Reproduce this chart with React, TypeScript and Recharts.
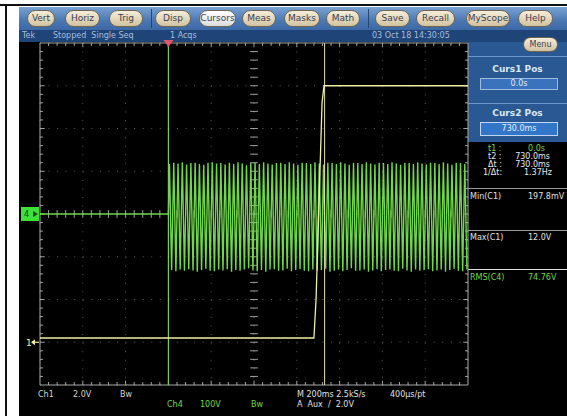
import { ComposedChart, Line, XAxis, YAxis, CartesianGrid, ReferenceLine, ReferenceDot } from 'recharts'

// horizontal 200 ms/div, trigger (cursor 1) 3 div from the left edge
const timeTicks = [-600, -400, -200, 0, 200, 400, 600, 800, 1000, 1200, 1400]
// Ch4 100 V/div, ground at the centre line
const ch4Ticks = [-400, -300, -200, -100, 0, 100, 200, 300, 400]
// Ch1 2 V/div, ground marker 3 div below centre
const ch1Domain = [-2, 14]

const ch1Times = [-600, 680, 690, 718, 727, 1400]
const ch1Volts = [0.2, 0.2, 2.0, 11.2, 12.0, 12.0]

const ch4IdleTimes = [-600, 0]
const ch4IdleVolts = [0, 0]
const ch4BurstStart = 5
const ch4HalfCycleMs = 10
const ch4Peaks = [
  117, -131, 120, -134, 118, -130, 121, -133, 116, -129,
  119, -132, 120, -135, 117, -131, 115, -128, 120, -133,
  121, -134, 118, -130, 119, -132, 116, -129, 120, -135,
  117, -131, 121, -133, 118, -130, 114, -127, 119, -132,
  120, -134, 117, -131, 121, -135, 118, -130, 116, -129,
  119, -133, 120, -132, 117, -128, 121, -134, 118, -131,
  115, -129, 120, -133, 119, -134, 117, -130, 121, -132,
  118, -131, 116, -128, 120, -135, 119, -133, 117, -130,
  121, -134, 118, -131, 115, -127, 120, -133, 119, -132,
  117, -130, 121, -135, 118, -132, 116, -129, 120, -134,
  119, -131, 117, -130, 121, -133, 118, -134, 115, -128,
  120, -132, 119, -135, 117, -130, 121, -133, 118, -131,
  116, -129, 120, -134, 119, -132, 117, -130, 121, -135,
  118, -131, 115, -128, 120, -133, 119, -134, 117, -130,
]

const cursorTimes = [0, 730]

const ch1Data = ch1Times.map((t, i) => ({ t, v: ch1Volts[i] }))
const ch4Data = [
  ...ch4IdleTimes.map((t, i) => ({ t, v: ch4IdleVolts[i] })),
  ...ch4Peaks.map((v, i) => ({ t: ch4BurstStart + i * ch4HalfCycleMs, v })),
]

// graticule minor ticks (5 per division)
const minorTimes = Array.from({ length: 51 }, (_, i) => -600 + i * 40)
const minorVolts = Array.from({ length: 41 }, (_, i) => -400 + i * 20)
const tickSegs: { x: number; y: number }[][] = []
minorTimes.forEach((t, i) => {
  if (i === 0 || i === 50) return
  const major = i % 5 === 0
  tickSegs.push([{ x: t, y: 400 }, { x: t, y: major ? 390 : 393 }])
  tickSegs.push([{ x: t, y: -400 }, { x: t, y: major ? -390 : -393 }])
  tickSegs.push([{ x: t, y: -9 }, { x: t, y: 9 }])
})
minorVolts.forEach((v, i) => {
  if (i === 0 || i === 40) return
  const major = i % 5 === 0
  tickSegs.push([{ x: -600, y: v }, { x: major ? -578 : -586, y: v }])
  tickSegs.push([{ x: 1400, y: v }, { x: major ? 1378 : 1386, y: v }])
  tickSegs.push([{ x: 382, y: v }, { x: 418, y: v }])
})

const FONT = '"DejaVu Sans", sans-serif'
const GREEN = '#6fd84a'
const YELLOW = '#f0eea4'

const buttons: [string, number, number][] = [
  ['Vert', 27, 28], ['Horiz', 65, 35], ['Trig', 109, 34], ['Disp', 155, 36],
  ['Cursors', 199, 37], ['Meas', 242, 34], ['Masks', 284, 36], ['Math', 326, 34],
  ['Save', 375, 35], ['Recall', 416, 39], ['MyScope', 466, 44], ['Help', 518, 35],
]

function txt(s: string, x: number, y: number, color = '#d8d8d8', size = 8, extra: any = {}) {
  return (
    <div key={s + x + y} style={{ position: 'absolute', left: x, top: y, color, fontSize: size, fontFamily: FONT, lineHeight: 1, whiteSpace: 'pre', ...extra }}>
      {s}
    </div>
  )
}

function TrigMark(p: any) {
  const { cx, cy } = p
  return <path d={`M${cx - 5},${cy - 3} L${cx + 5},${cy - 3} L${cx},${cy + 4} Z`} fill="#e0566a" />
}

function Ch4Mark(p: any) {
  const { cx, cy } = p
  return (
    <g>
      <rect x={cx - 19} y={cy - 7} width={18} height={14} fill="#3ee03a" />
      <text x={cx - 16} y={cy + 3} fontSize={8} fontFamily={FONT} fill="#1a4a1a">4</text>
      <path d={`M${cx - 2},${cy} L${cx - 7},${cy - 3} L${cx - 7},${cy + 3} Z`} fill="#1a4a1a" />
    </g>
  )
}

function Ch1Mark(p: any) {
  const { cx, cy } = p
  return (
    <g>
      <text x={cx - 14} y={cy + 4} fontSize={9} fontFamily={FONT} fill={YELLOW}>1</text>
      <line x1={cx - 8} y1={cy} x2={cx - 1} y2={cy} stroke={YELLOW} strokeWidth={1.2} />
      <path d={`M${cx - 9},${cy} L${cx - 5},${cy - 3} L${cx - 5},${cy + 3} Z`} fill={YELLOW} />
    </g>
  )
}

export default function App() {
  return (
    <div style={{ position: 'absolute', left: 0, top: 0, width: 567, height: 416, background: '#fff', overflow: 'hidden', fontFamily: FONT }}>
      <div style={{ position: 'absolute', left: 0, top: 4, width: 567, height: 2, background: '#111' }} />
      <div style={{ position: 'absolute', left: 5, top: 4, width: 2, height: 412, background: '#111' }} />
      <div style={{ position: 'absolute', left: 19, top: 7, width: 548, height: 409, background: '#000' }} />

      {/* toolbar */}
      <div style={{ position: 'absolute', left: 19, top: 7, width: 548, height: 23, background: 'linear-gradient(#7aa2d2, #4a78b4 60%, #3c68a4)' }} />
      <div style={{ position: 'absolute', left: 151, top: 9, width: 1, height: 19, background: '#23466f' }} />
      <div style={{ position: 'absolute', left: 368, top: 9, width: 1, height: 19, background: '#23466f' }} />
      {buttons.map(([label, x, w]) => (
        <div key={label} style={{
          position: 'absolute', left: x, top: 10, width: w, height: 17, boxSizing: 'border-box',
          borderRadius: 9, border: '1px solid #6e6450',
          background: label === 'Cursors' ? 'linear-gradient(#ffffff, #dcdcdc)' : 'linear-gradient(#f6eedb, #d2c39f)',
          color: '#3a3e52', fontSize: 9, lineHeight: '15px', textAlign: 'center', fontFamily: FONT,
        }}>{label}</div>
      ))}

      {/* status row */}
      <div style={{ position: 'absolute', left: 19, top: 30, width: 548, height: 12, background: '#1e4478' }} />
      {txt('Tek', 22, 32, '#a9bfdc')}
      {txt('Stopped  Single Seq', 53, 32, '#a9bfdc')}
      {txt('1 Acqs', 170, 32, '#a9bfdc')}
      {txt('03 Oct 18 14:30:05', 372, 32, '#a9bfdc')}

      {/* right panel */}
      <div style={{ position: 'absolute', left: 468, top: 42, width: 99, height: 100, background: '#2a5893' }} />
      <div style={{ position: 'absolute', left: 468, top: 56, width: 99, height: 1, background: '#6c96cc' }} />
      <div style={{ position: 'absolute', left: 468, top: 103, width: 99, height: 1, background: '#6c96cc' }} />
      <div style={{
        position: 'absolute', left: 523, top: 37, width: 35, height: 15, boxSizing: 'border-box', borderRadius: 8,
        border: '1px solid #6e6450', background: 'linear-gradient(#f6eedb, #d2c39f)', color: '#3a3e52',
        fontSize: 8, lineHeight: '13px', textAlign: 'center',
      }}>Menu</div>
      {txt('Curs1 Pos', 468, 65, '#dce6f4', 9, { width: 99, textAlign: 'center', fontWeight: 'bold' })}
      <div style={{ position: 'absolute', left: 480, top: 78, width: 78, height: 12, boxSizing: 'border-box', background: '#3a72bb', border: '1px solid #9ebbe2' }} />
      {txt('0.0s', 480, 80, '#e6eefa', 8, { width: 78, textAlign: 'center' })}
      {txt('Curs2 Pos', 468, 109, '#dce6f4', 9, { width: 99, textAlign: 'center', fontWeight: 'bold' })}
      <div style={{ position: 'absolute', left: 480, top: 122, width: 78, height: 14, boxSizing: 'border-box', background: '#3176c8', border: '1px solid #c2d6f2' }} />
      {txt('730.0ms', 480, 125, '#e6eefa', 8, { width: 78, textAlign: 'center' })}

      {txt('t1 :', 488, 145, GREEN)}
      {txt('0.0s', 500, 145, GREEN, 8, { width: 45, textAlign: 'right' })}
      {txt('t2 :', 488, 153, '#e8e8e8')}
      {txt('730.0ms', 500, 153, '#e8e8e8', 8, { width: 50, textAlign: 'right' })}
      {txt('\u0394t :', 488, 161, '#e8e8e8')}
      {txt('730.0ms', 500, 161, '#e8e8e8', 8, { width: 50, textAlign: 'right' })}
      {txt('1/\u0394t:', 483, 169, '#e8e8e8')}
      {txt('1.37Hz', 500, 169, '#e8e8e8', 8, { width: 52, textAlign: 'right' })}

      <div style={{ position: 'absolute', left: 468, top: 188, width: 99, height: 1, background: '#9a9a9a' }} />
      {txt('Min(C1)', 470, 193, '#e0e0e0')}
      {txt('197.8mV', 528, 193, '#e0e0e0')}
      <div style={{ position: 'absolute', left: 468, top: 230, width: 99, height: 1, background: '#9a9a9a' }} />
      {txt('Max(C1)', 470, 234, '#e0e0e0')}
      {txt('12.0V', 528, 234, '#e0e0e0')}
      <div style={{ position: 'absolute', left: 468, top: 269, width: 99, height: 1, background: '#e0e0e0' }} />
      {txt('RMS(C4)', 470, 274, GREEN)}
      {txt('74.76V', 528, 274, GREEN)}

      {/* bottom readout */}
      {txt('Ch1', 38, 391, '#d6d6c8')}
      {txt('2.0V', 73, 391, '#d6d6c8')}
      {txt('Bw', 120, 391, '#d6d6c8')}
      {txt('Ch4', 167, 401, GREEN)}
      {txt('100V', 200, 401, GREEN)}
      {txt('Bw', 251, 401, GREEN)}
      {txt('M 200ms 2.5kS/s', 297, 391, '#e0e0e0')}
      {txt('400\u00b5s/pt', 390, 391, '#e0e0e0')}
      {txt('A  Aux  /  2.0V', 297, 401, '#e0e0e0')}

      <ComposedChart width={567} height={416} margin={{ top: 43, right: 99, bottom: 31, left: 40 }}
        style={{ position: 'absolute', left: 0, top: 0 }}>
        <XAxis type="number" dataKey="t" domain={[-600, 1400]} ticks={timeTicks} hide />
        <YAxis type="number" domain={[-400, 400]} ticks={ch4Ticks} hide />
        <YAxis yAxisId="c1" type="number" domain={ch1Domain} hide />
        <CartesianGrid stroke="#5e5e5e" strokeDasharray="1 7.56" />
        {tickSegs.map((seg, i) => (
          <ReferenceLine key={'tk' + i} segment={seg} stroke="#a0a0a0" strokeWidth={1} />
        ))}
        <ReferenceLine x={-600} stroke="#a8a8a8" />
        <ReferenceLine x={1400} stroke="#a8a8a8" />
        <ReferenceLine y={400} stroke="#a8a8a8" />
        <ReferenceLine y={-400} stroke="#a8a8a8" />
        <Line data={ch4Data} dataKey="v" type="linear" stroke={GREEN} strokeWidth={1.4} dot={false} isAnimationActive={false} />
        <ReferenceLine x={cursorTimes[0]} stroke="#7ccc5c" strokeWidth={1.2} />
        <ReferenceLine x={cursorTimes[1]} stroke="#e6e2b0" strokeWidth={1} />
        <Line data={ch1Data} dataKey="v" yAxisId="c1" type="linear" stroke={YELLOW} strokeWidth={1.3} dot={false} isAnimationActive={false} />
        <ReferenceDot x={cursorTimes[0]} y={400} shape={TrigMark} ifOverflow="visible" />
        <ReferenceDot x={-600} y={0} shape={Ch4Mark} ifOverflow="visible" />
        <ReferenceDot x={-600} y={0} yAxisId="c1" shape={Ch1Mark} ifOverflow="visible" />
      </ComposedChart>
    </div>
  )
}
